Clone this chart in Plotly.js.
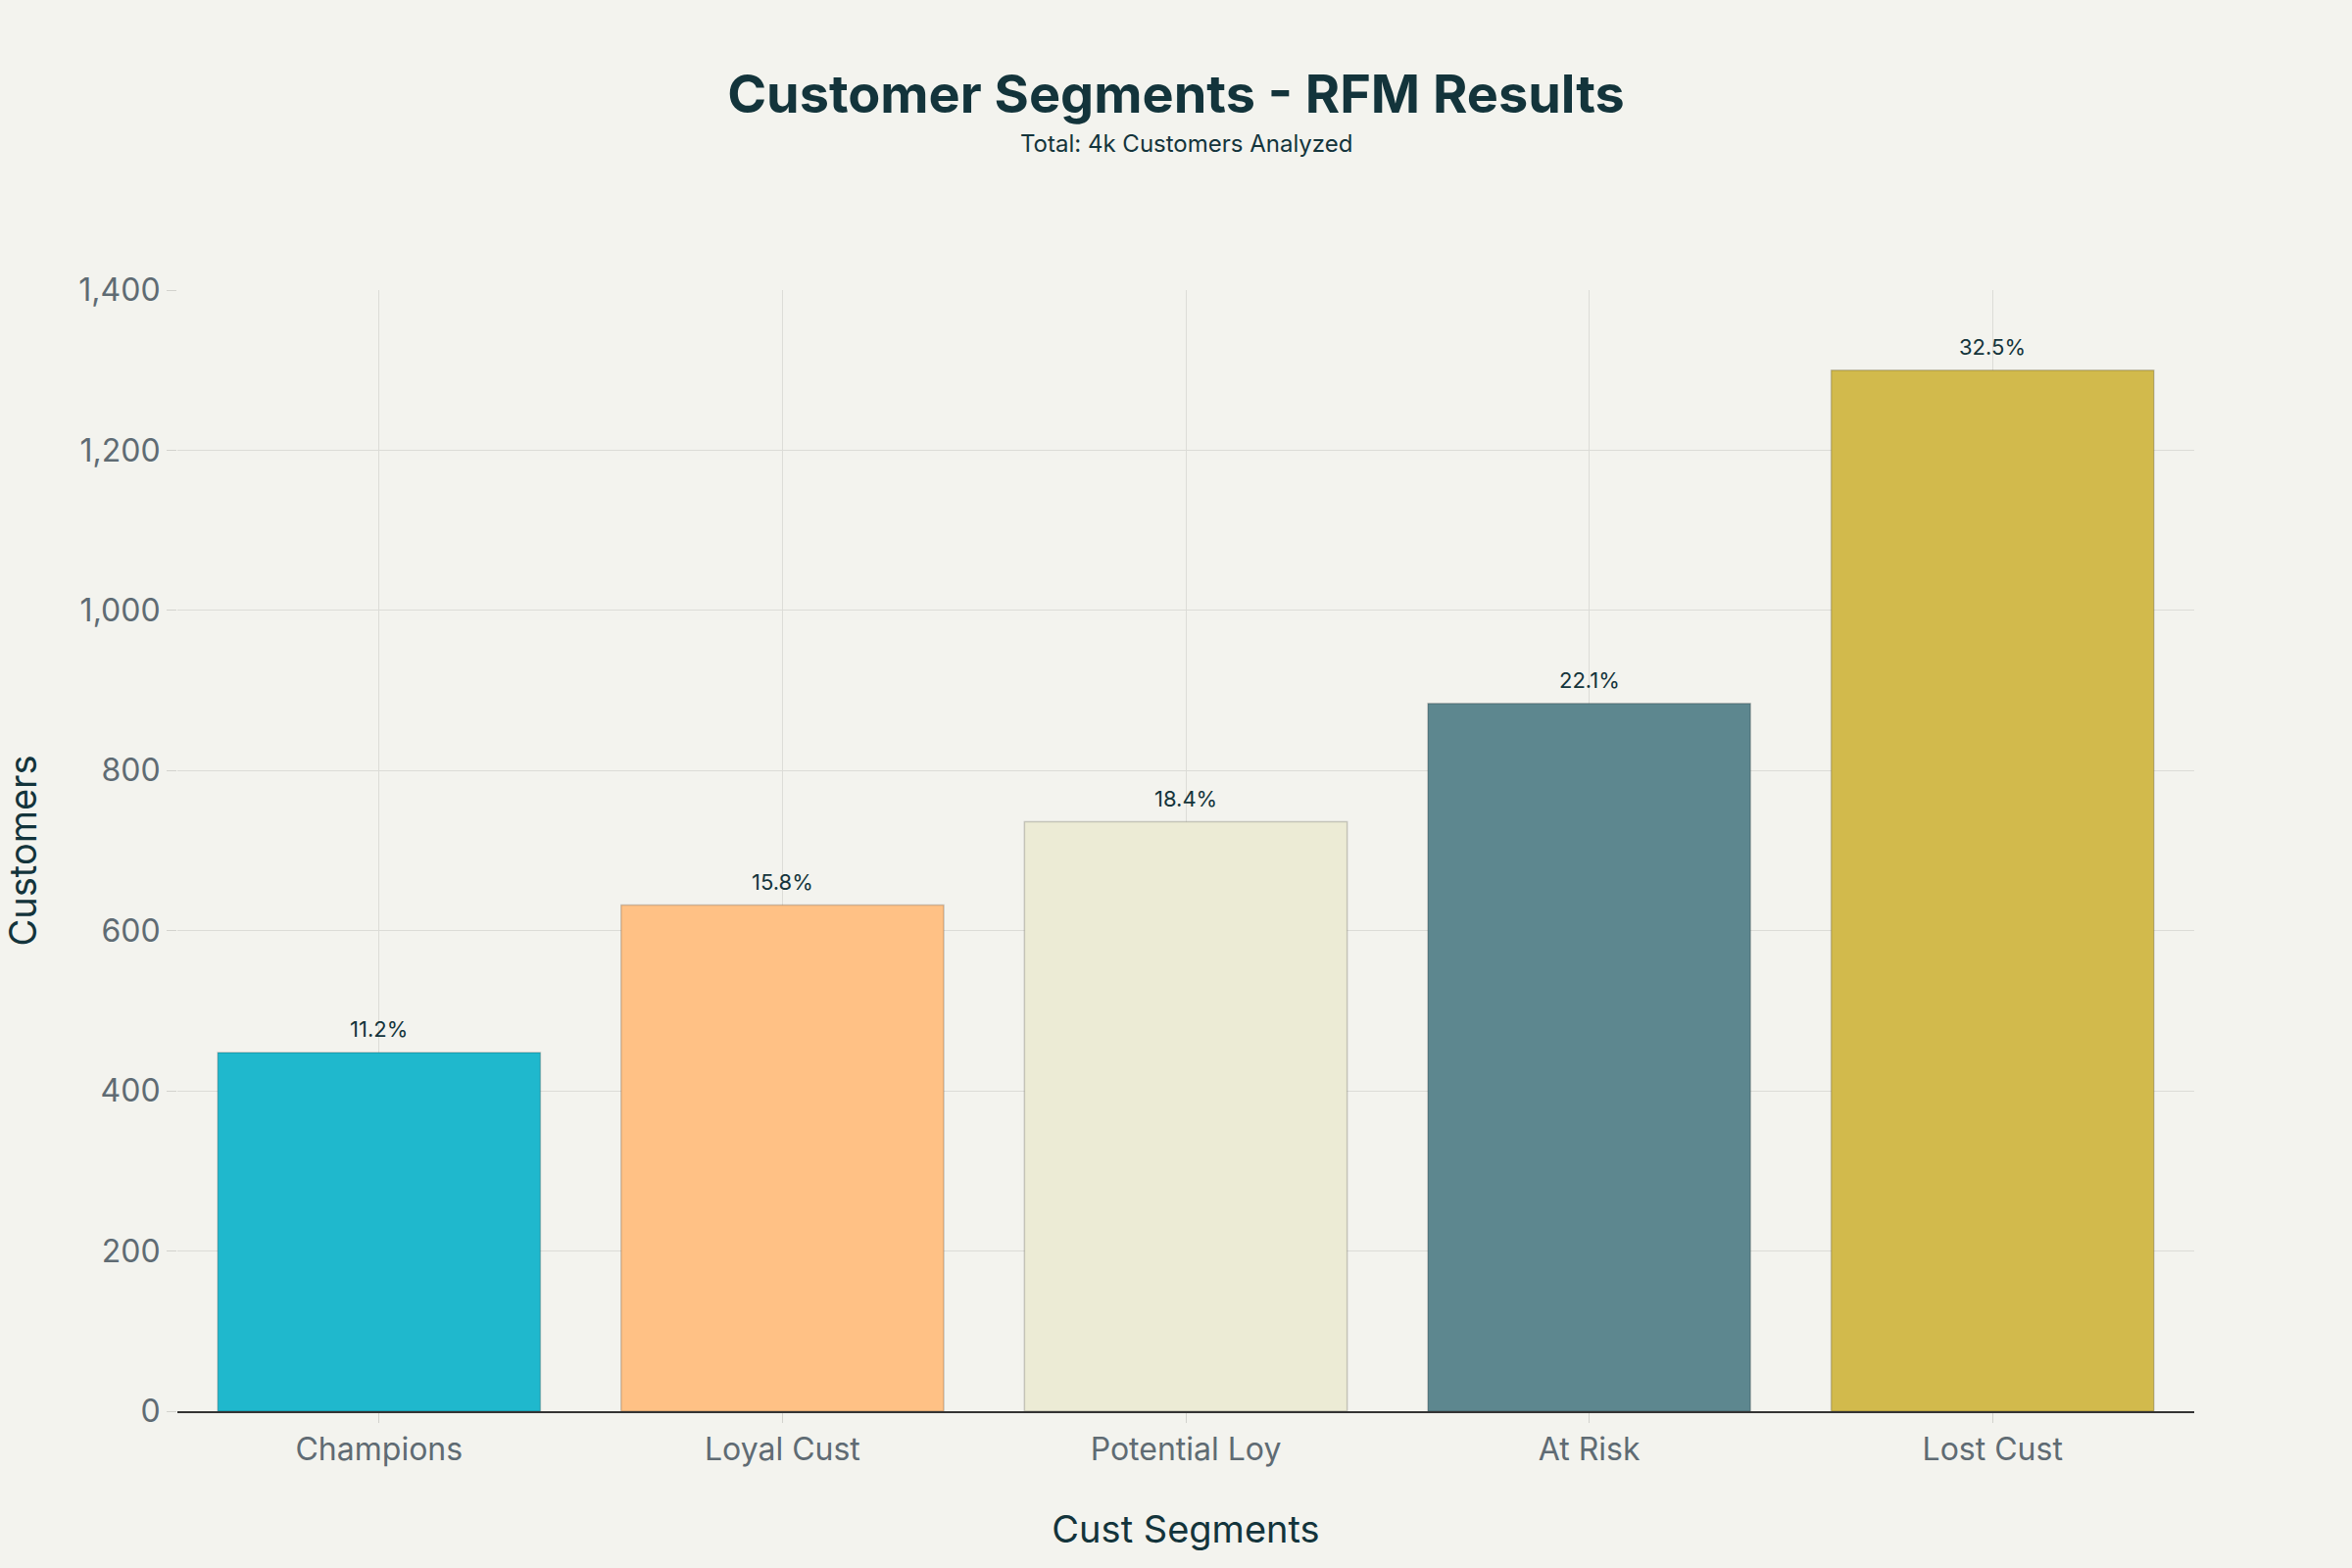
<!DOCTYPE html>
<html>
<head>
<meta charset="utf-8">
<script src="https://cdn.plot.ly/plotly-3.0.1.min.js"></script>
<style>html,body{margin:0;padding:0;background:#F3F3EE;}#chart{width:2400px;height:1600px;}</style>
</head>
<body>
<div id="chart"></div>
<script>
const segments = ["Champions", "Loyal Cust", "Potential Loy", "At Risk", "Lost Cust"];
const customers = [448, 632, 736, 884, 1300];
const shareLabels = ["11.2%", "15.8%", "18.4%", "22.1%", "32.5%"];
const barColors = ["#1FB8CD", "#FFC185", "#ECEBD5", "#5D878F", "#D2BA4C"];
const yTickVals = [0, 200, 400, 600, 800, 1000, 1200, 1400];

const FONT = "Inter, 'Open Sans', sans-serif";
const trace = {
  type: "bar",
  x: segments,
  y: customers,
  marker: {color: barColors, line: {color: "rgba(0,0,0,0.18)", width: 1.5}},
  hoverinfo: "x+y"
};

const labelAnnotations = segments.map((s, i) => ({
  x: s, y: customers[i], xref: "x", yref: "y",
  text: shareLabels[i], showarrow: false,
  yanchor: "bottom", yshift: 9,
  font: {family: FONT, size: 22, color: "#13343B"}
}));

const layout = {
  width: 2400, height: 1600,
  paper_bgcolor: "#F3F3EE", plot_bgcolor: "#F3F3EE",
  margin: {l: 181, r: 161, t: 296, b: 160},
  font: {family: FONT, color: "#13343B"},
  showlegend: false,
  bargap: 0.2,
  title: {
    text: "<b>Customer Segments - RFM Results</b>",
    font: {family: FONT, size: 54, color: "#13343B"},
    x: 0.5, xanchor: "center",
    y: 0.952, yanchor: "top"
  },
  annotations: [{
    text: "Total: 4k Customers Analyzed",
    xref: "paper", yref: "paper", x: 0.5, y: 1.131,
    xanchor: "center", yanchor: "middle", showarrow: false,
    font: {family: FONT, size: 24, color: "#13343B"}
  }].concat(labelAnnotations),
  xaxis: {
    title: {text: "Cust Segments", font: {family: FONT, size: 38, color: "#13343B"}, standoff: 50},
    tickfont: {family: FONT, size: 32, color: "#5F6B73"},
    showgrid: true, gridcolor: "#DCDCD7", gridwidth: 1,
    ticks: "outside", ticklen: 10, tickcolor: "#D2D2CD",
    showline: true, linecolor: "#333333", linewidth: 1.5,
    range: [-0.5, 4.5]
  },
  yaxis: {
    title: {text: "Customers", font: {family: FONT, size: 38, color: "#13343B"}, standoff: 34},
    tickfont: {family: FONT, size: 32, color: "#5F6B73"},
    range: [0, 1400],
    tickvals: yTickVals,
    tickformat: ",d",
    showgrid: true, gridcolor: "#DCDCD7", gridwidth: 1,
    ticks: "outside", ticklen: 10, tickcolor: "#D2D2CD",
    zeroline: false, showline: false
  }
};

Plotly.newPlot("chart", [trace], layout, {displayModeBar: false, staticPlot: true});
</script>
</body>
</html>
